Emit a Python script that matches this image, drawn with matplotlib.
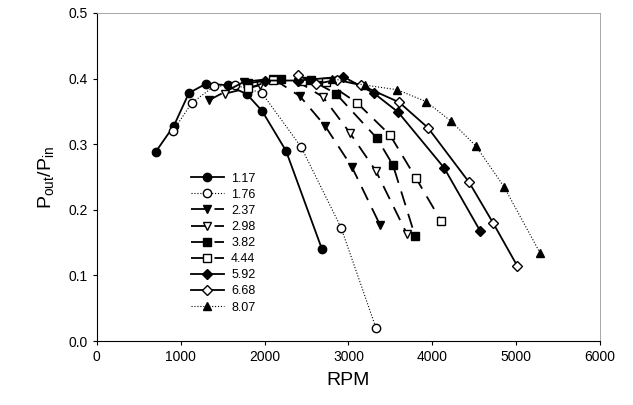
import matplotlib.pyplot as plt

plt.rcParams['font.family'] = ['Liberation Sans', 'DejaVu Sans']

# ---- dane ----
rpm_117 = [700, 918, 1098, 1300, 1563, 1790, 1968, 2255, 2684]
eff_117 = [0.288, 0.328, 0.378, 0.392, 0.390, 0.376, 0.351, 0.290, 0.140]

rpm_176 = [907, 1133, 1396, 1650, 1968, 2434, 2911, 3328]
eff_176 = [0.320, 0.363, 0.388, 0.390, 0.378, 0.296, 0.173, 0.020]

rpm_237 = [1336, 1754, 2100, 2422, 2720, 3042, 3376]
eff_237 = [0.367, 0.395, 0.400, 0.373, 0.328, 0.265, 0.177]

rpm_298 = [1527, 1950, 2400, 2696, 3018, 3328, 3698]
eff_298 = [0.377, 0.390, 0.395, 0.372, 0.317, 0.259, 0.163]

rpm_382 = [1802, 2200, 2550, 2851, 3340, 3531, 3794]
eff_382 = [0.393, 0.400, 0.398, 0.377, 0.309, 0.268, 0.160]

rpm_444 = [1800, 2100, 2450, 2732, 3102, 3495, 3806, 4104]
eff_444 = [0.385, 0.398, 0.396, 0.395, 0.363, 0.314, 0.248, 0.183]

rpm_592 = [2000, 2400, 2935, 3300, 3591, 4140, 4569]
eff_592 = [0.397, 0.397, 0.403, 0.378, 0.349, 0.264, 0.168]

rpm_668 = [2398, 2613, 2863, 3150, 3603, 3948, 4438, 4724, 5010]
eff_668 = [0.405, 0.392, 0.398, 0.390, 0.364, 0.325, 0.242, 0.180, 0.115]

rpm_807 = [2800, 3200, 3579, 3925, 4223, 4521, 4855, 5285]
eff_807 = [0.400, 0.390, 0.383, 0.365, 0.335, 0.297, 0.235, 0.134]

labels = ['1.17', '1.76', '2.37', '2.98', '3.82', '4.44', '5.92', '6.68', '8.07']

fig = plt.figure(figsize=(6.33, 4.05), dpi=100)
ax = fig.add_axes([0.153, 0.158, 0.795, 0.810])

ms = 6
dash = (0, (8, 5))
ax.plot(rpm_117, eff_117, 'k-', marker='o', mfc='k', ms=ms, lw=1.3, label=labels[0])
ax.plot(rpm_176, eff_176, 'k:', marker='o', mfc='w', ms=ms, lw=0.8, label=labels[1])
ax.plot(rpm_237, eff_237, 'k', ls=dash, marker='v', mfc='k', ms=ms, lw=1.3, label=labels[2])
ax.plot(rpm_298, eff_298, 'k', ls=dash, marker='v', mfc='w', ms=ms, lw=1.3, label=labels[3])
ax.plot(rpm_382, eff_382, 'k', ls=dash, marker='s', mfc='k', ms=ms - 0.5, lw=1.3, label=labels[4])
ax.plot(rpm_444, eff_444, 'k', ls=dash, marker='s', mfc='w', ms=ms - 0.5, lw=1.3, label=labels[5])
ax.plot(rpm_592, eff_592, 'k-', marker='D', mfc='k', ms=ms - 0.5, lw=1.3, label=labels[6])
ax.plot(rpm_668, eff_668, 'k-', marker='D', mfc='w', ms=ms - 0.5, lw=1.3, label=labels[7])
ax.plot(rpm_807, eff_807, 'k:', marker='^', mfc='k', ms=ms, lw=0.8, label=labels[8])

ax.set_xlim(0, 6000)
ax.set_ylim(0.0, 0.5)
ax.set_xticks(range(0, 6001, 1000))
ax.set_yticks([0.0, 0.1, 0.2, 0.3, 0.4, 0.5])
ax.set_yticklabels(['0.0', '0.1', '0.2', '0.3', '0.4', '0.5'])
ax.tick_params(direction='out', length=3, labelsize=10)
for s in ['top', 'right']:
    ax.spines[s].set_color('0.6')
    ax.spines[s].set_linewidth(0.6)

ax.set_xlabel('RPM', fontsize=14, labelpad=6)
ax.set_ylabel(r'P$_{\mathregular{out}}$/P$_{\mathregular{in}}$', fontsize=14, labelpad=8)

ax.legend(loc='upper left', bbox_to_anchor=(0.17, 0.54), frameon=False,
          fontsize=9, handlelength=2.6, handletextpad=0.6,
          labelspacing=0.33, borderpad=0.2)

fig.savefig('out.png', dpi=100)
